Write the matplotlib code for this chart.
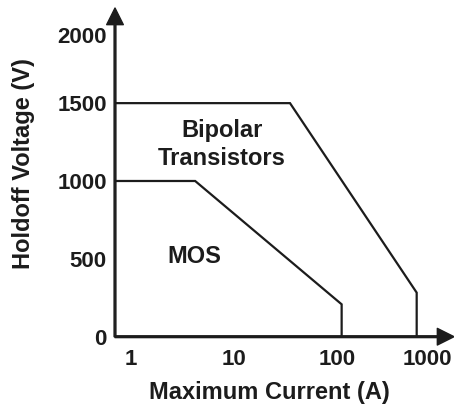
import matplotlib
matplotlib.use("Agg")
import matplotlib.pyplot as plt
from matplotlib.transforms import ScaledTranslation

# boundary curves (current in A, holdoff voltage in V)
bipolar_current = [0.70, 35, 594, 594]
bipolar_voltage = [1500, 1500, 283, 0]
mos_current = [0.70, 4.2, 111, 111]
mos_voltage = [1000, 1000, 208, 0]

x_ticks = [1, 10, 100, 1000]
x_labels = ["1", "10", "100", "1000"]
y_ticks = [0, 500, 1000, 1500, 2000]
y_labels = ["0", "500", "1000", "1500", "2000"]

plt.rcParams["font.family"] = ["Liberation Sans", "DejaVu Sans"]
plt.rcParams["font.weight"] = "bold"
ink = "#1c1c1c"

W, H = 454, 407
fig = plt.figure(figsize=(W / 100, H / 100), dpi=100)
ax = fig.add_axes([115 / W, (H - 336.7) / H, (454 - 115) / W, (336.7 - 8) / H])

ax.plot(bipolar_current, bipolar_voltage, color=ink, lw=1.6, solid_joinstyle="miter")
ax.plot(mos_current, mos_voltage, color=ink, lw=1.6, solid_joinstyle="miter")

ax.set_xscale("log")
ax.set_xlim(0.70, 1368)
ax.set_ylim(0, 2111)
for s in ax.spines.values():
    s.set_visible(False)

# axis arrows
arrow = dict(width=1.3, headwidth=12, headlength=12, facecolor=ink, edgecolor=ink, shrink=0)
ax.annotate("", xy=(1, 0), xytext=(0, 0), xycoords="axes fraction", arrowprops=arrow)
ax.annotate("", xy=(0, 1), xytext=(0, 0), xycoords="axes fraction", arrowprops=arrow)

ax.set_xticks(x_ticks)
ax.set_xticklabels(x_labels)
ax.xaxis.set_minor_locator(plt.NullLocator())
ax.set_yticks(y_ticks)
ax.set_yticklabels(y_labels)
ax.tick_params(length=0, labelsize=16, labelcolor=ink)
ax.tick_params(axis="x", pad=9)
ax.tick_params(axis="y", pad=6)

# nudge the labels that sit next to the arrows
xl = ax.get_xticklabels()[-1]
xl.set_transform(xl.get_transform() + ScaledTranslation(-13 / 100, 0, fig.dpi_scale_trans))
yl = ax.get_yticklabels()[-1]
yl.set_transform(yl.get_transform() + ScaledTranslation(0, -10 / 100, fig.dpi_scale_trans))

ax.text(7.6, 1235, "Bipolar\nTransistors", ha="center", va="center", fontsize=17,
        color=ink, linespacing=1.3)
ax.text(4.1, 512, "MOS", ha="center", va="center", fontsize=17, color=ink)

fig.text(269 / W, 1 - 392 / H, "Maximum Current (A)", ha="center", va="center",
         fontsize=17, color=ink)
fig.text(24 / W, 1 - 164 / H, "Holdoff Voltage (V)", ha="center", va="center",
         rotation=90, fontsize=17, color=ink)

fig.savefig("out.png", dpi=100)
